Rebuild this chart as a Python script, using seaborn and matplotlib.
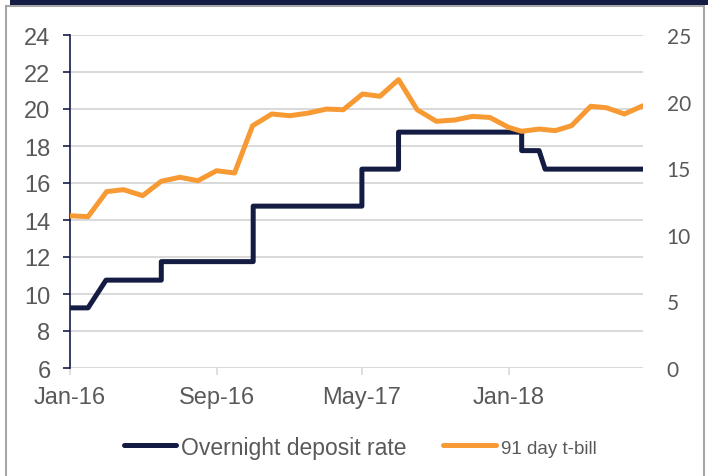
import numpy as np
import pandas as pd
import seaborn as sns
import matplotlib.pyplot as plt
import matplotlib.dates as mdates
from matplotlib.patches import Rectangle

# overnight deposit rate (left axis, %) - step changes
odr_dates = ["2016-01-01", "2016-01-31", "2016-03-01", "2016-06-01", "2016-06-01",
             "2016-11-01", "2016-11-01", "2017-05-01", "2017-05-01", "2017-07-01",
             "2017-07-01", "2018-01-22", "2018-01-22", "2018-02-20", "2018-03-02",
             "2018-08-12"]
odr_values = [9.25, 9.25, 10.75, 10.75, 11.75,
              11.75, 14.75, 14.75, 16.75, 16.75,
              18.75, 18.75, 17.75, 17.75, 16.75,
              16.75]

# 91 day t-bill yield (right axis, %)
tbill_dates = ["2016-01-01", "2016-01-31", "2016-03-02", "2016-03-30", "2016-05-01",
               "2016-06-01", "2016-07-02", "2016-08-01", "2016-09-01", "2016-10-01",
               "2016-10-31", "2016-12-02", "2017-01-01", "2017-02-01", "2017-03-03",
               "2017-03-31", "2017-05-02", "2017-05-31", "2017-07-01", "2017-08-01",
               "2017-09-02", "2017-10-03", "2017-11-01", "2017-11-30", "2017-12-31",
               "2018-01-22", "2018-02-20", "2018-03-19", "2018-04-15", "2018-05-17",
               "2018-06-12", "2018-07-12", "2018-08-12"]
tbill_values = [11.43, 11.36, 13.24, 13.39, 12.94,
                14.02, 14.32, 14.06, 14.81, 14.64,
                18.19, 19.07, 18.94, 19.14, 19.44,
                19.39, 20.57, 20.40, 21.65, 19.39,
                18.52, 18.62, 18.89, 18.81, 18.07,
                17.77, 17.94, 17.82, 18.19, 19.65,
                19.54, 19.07, 19.69]

tick_dates = ["2016-01-01", "2016-09-01", "2017-05-01", "2018-01-01"]

NAVY = "#141c44"
ORANGE = "#f89a34"
GREY_TXT = "#595959"

odr = pd.DataFrame({"date": pd.to_datetime(odr_dates), "rate": odr_values})
tbill = pd.DataFrame({"date": pd.to_datetime(tbill_dates), "rate": tbill_values})

sns.set_style("white")
plt.rcParams["font.family"] = ["Liberation Sans", "DejaVu Sans"]

fig = plt.figure(figsize=(7.08, 4.77), dpi=100)
ax = fig.add_axes([70 / 708, 1 - 369 / 477, (643 - 70) / 708, (369 - 36) / 477])
ax2 = ax.twinx()

sns.lineplot(data=odr, x="date", y="rate", ax=ax, color=NAVY, lw=3.6,
             estimator=None, sort=False, label="Overnight deposit rate", legend=False)
sns.lineplot(data=tbill, x="date", y="rate", ax=ax2, color=ORANGE, lw=3.6,
             estimator=None, sort=False, label="91 day t-bill", legend=False)

ax.set_xlim(pd.Timestamp("2016-01-01"), pd.Timestamp("2018-08-12"))
ax.set_ylim(6, 24)
ax.set_yticks(np.arange(6, 25, 2))
ax2.set_ylim(0, 25)
ax2.set_yticks(np.arange(0, 26, 5))

ax.set_xticks(pd.to_datetime(tick_dates))
ax.xaxis.set_major_formatter(mdates.DateFormatter("%b-%y"))

ax.grid(axis="y", color="#d9d9d9", lw=1.4)
ax.set_axisbelow(True)
ax2.grid(False)

for a in (ax, ax2):
    a.set_xlabel("")
    a.set_ylabel("")
    for s in a.spines.values():
        s.set_visible(False)
ax.spines["left"].set_visible(True)
ax.spines["left"].set_color(NAVY)
ax.spines["left"].set_linewidth(1.2)

ax.tick_params(axis="y", which="both", left=True, length=5, width=1.2, color=NAVY,
               pad=9, labelsize=17, labelcolor=GREY_TXT)
ax.tick_params(axis="x", bottom=True, length=5, width=1.2, color="#d9d9d9",
               pad=8, labelsize=17, labelcolor=GREY_TXT)
ax2.tick_params(axis="y", right=False, length=0, pad=17, labelsize=15, labelcolor=GREY_TXT)
for t in ax2.get_yticklabels():
    t.set_family(["Lato", "DejaVu Sans"])

h1, l1 = ax.get_legend_handles_labels()
h2, l2 = ax2.get_legend_handles_labels()
leg = fig.legend(h1 + h2, l1 + l2, loc="center", bbox_to_anchor=(360 / 708, 1 - 448 / 477),
                 ncol=2, frameon=False, fontsize=16.5, handlelength=2.3, handletextpad=0.2,
                 columnspacing=1.6, labelcolor=GREY_TXT)
leg.get_texts()[1].set_fontsize(13.5)

# outer frame and top bar
fig.patches.append(Rectangle((6 / 708, -0.02), 698 / 708, 1.02 - 6.5 / 477,
                             transform=fig.transFigure, fill=False,
                             edgecolor="#a6a6a6", lw=1.5, zorder=0))
fig.patches.append(Rectangle((10 / 708, 1 - 6 / 477), 1, 6 / 477,
                             transform=fig.transFigure, facecolor=NAVY,
                             edgecolor="none", zorder=1))

fig.savefig("out.png", dpi=100)
